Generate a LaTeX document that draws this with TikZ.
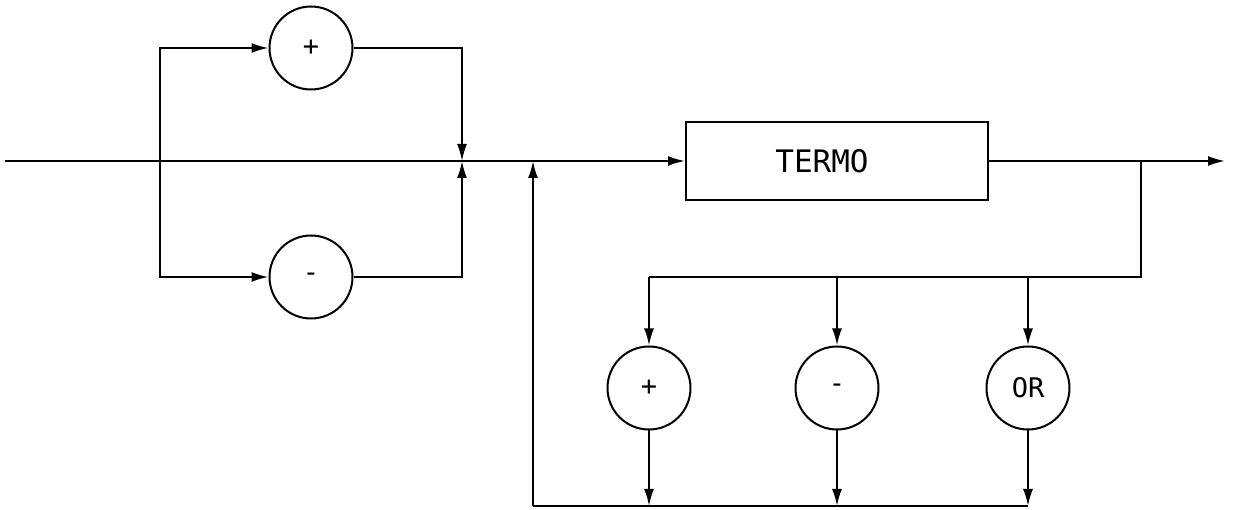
\documentclass[tikz,border=0pt]{standalone}
\usepackage{fontspec}
\usetikzlibrary{arrows.meta}
\newfontfamily\diagfont{DejaVu Sans Mono}
\tikzset{
  circ/.style={draw,circle,line width=2pt,minimum size=83pt,inner sep=0pt,font=\fontsize{27}{32}\selectfont\diagfont},
  termobox/.style={draw,rectangle,line width=2pt,minimum width=302pt,minimum height=78pt,font=\fontsize{31}{37}\selectfont\diagfont},
  flow/.style={line width=2pt,-{Latex[length=17pt,width=10pt]}},
  wire/.style={line width=2pt}
}
\begin{document}
\begin{tikzpicture}[x=1pt,y=-1pt]
\path[use as bounding box] (0,0) rectangle (1235.0,510.0);
\coordinate (in) at (5,161);
\coordinate (split) at (160,161);
\coordinate (join) at (462,161);
\coordinate (back) at (533,161);
\coordinate (fork) at (1141,161);
\coordinate (out) at (1225,161);
\coordinate (rail) at (1141,277);
\coordinate (base) at (533,506);
\node[circ] (plus) at (311,48) {+};
\node[circ] (minus) at (311,277) {-};
\node[termobox] (termo) at (837,161) {TERMO\hspace*{30pt}};
\node[circ] (add) at (649,388) {+};
\node[circ] (sub) at (837,388) {-};
\node[circ] (orop) at (1028,388) {OR};
\draw[flow] (in) -- (termo.west);
\draw[flow] (split) |- (plus.west);
\draw[flow] (split) |- (minus.west);
\draw[flow] (plus.east) -| (join);
\draw[flow] (minus.east) -| (join);
\draw[flow] (base) -- (back);
\draw[flow] (termo.east) -- (out);
\draw[wire] (fork) -- (rail) -- (rail -| add.north);
\draw[flow] (rail -| add.north) -- (add.north);
\draw[flow] (rail -| sub.north) -- (sub.north);
\draw[flow] (rail -| orop.north) -- (orop.north);
\draw[flow] (add.south) -- (add.south |- base);
\draw[flow] (sub.south) -- (sub.south |- base);
\draw[flow] (orop.south) -- (orop.south |- base);
\draw[wire] (base) -- (base -| orop.south);
\end{tikzpicture}
\end{document}
